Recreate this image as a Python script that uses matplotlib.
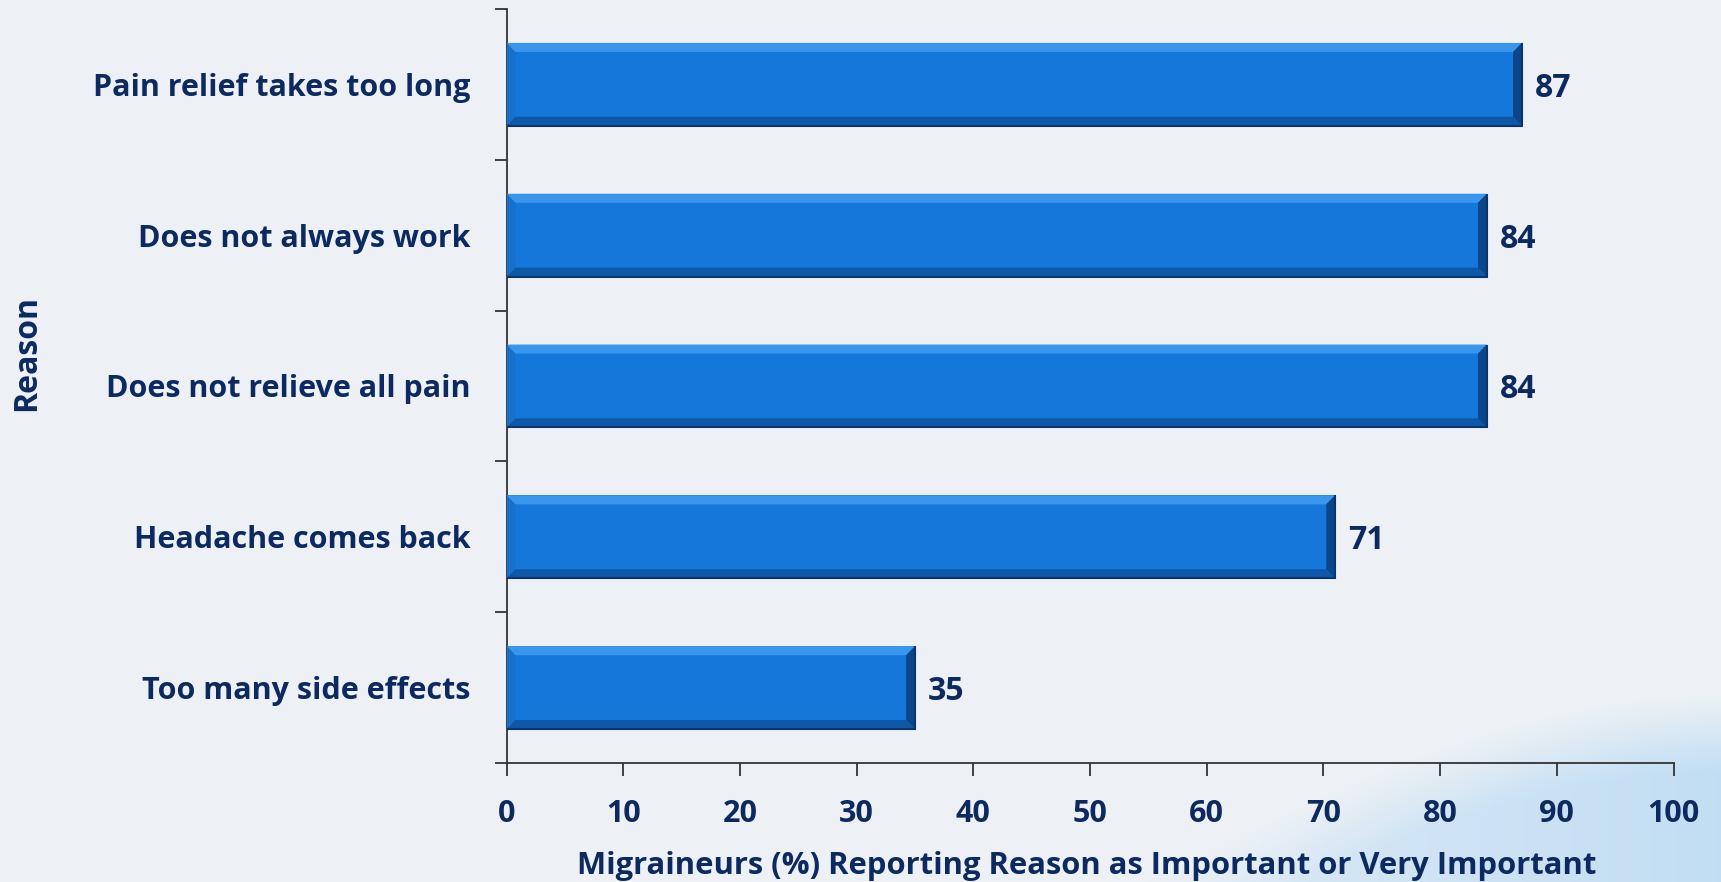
import numpy as np
import matplotlib.pyplot as plt
from matplotlib.patches import Polygon

# Survey data
reasons = [
    "Pain relief takes too long",
    "Does not always work",
    "Does not relieve all pain",
    "Headache comes back",
    "Too many side effects",
]
percent = [87, 84, 84, 71, 35]
x_ticks = list(range(0, 101, 10))

NAVY = "#0c2a60"
FONT = "Open Sans"
W, H, DPI = 1721, 882, 100

fig = plt.figure(figsize=(W / DPI, H / DPI), dpi=DPI)

# Background: pale grey-blue with a soft blue swoosh at the lower right
bg = fig.add_axes([0, 0, 1, 1], zorder=0)
bg.set_axis_off()
yy, xx = np.mgrid[0:H, 0:W].astype(float)
base = np.array([0.933, 0.948, 0.963])
blue = np.array([0.76, 0.87, 0.955])
t = np.clip((xx - 1100) / (W - 1100), 0, 1)
boundary = H + 10 - 200 * np.sin(t * np.pi / 2) ** 1.1
d = yy - boundary
mask = np.clip(d / 80.0, 0, 1) * (xx > 1100)
strength = mask * np.clip(0.35 + 0.65 * t, 0, 1)
img = base[None, None, :] * (1 - strength[..., None]) + blue[None, None, :] * strength[..., None]
bg.imshow(img, extent=[0, 1, 0, 1], aspect="auto", origin="upper")
bg.set_xlim(0, 1)
bg.set_ylim(0, 1)

ax = fig.add_axes([506.5 / W, 119 / H, 1167 / W, 754 / H], zorder=1)
ax.patch.set_alpha(0)

n = len(reasons)
ypos = np.arange(n)[::-1]
bar_h = 0.55

main = "#1477d9"
ax.barh(ypos, percent, height=bar_h, color=main, edgecolor="none", zorder=2)

# Bevel shading on each bar
bx = 0.75   # horizontal bevel depth (data units)
by = 0.06   # vertical bevel depth (category units)
for y, v in zip(ypos, percent):
    top, bot = y + bar_h / 2, y - bar_h / 2
    faces = [
        ([(0, top), (v, top), (v - bx, top - by), (bx, top - by)], "#3a96ec"),
        ([(0, bot), (v, bot), (v - bx, bot + by), (bx, bot + by)], "#0d58a8"),
        ([(v, top), (v, bot), (v - bx, bot + by), (v - bx, top - by)], "#0a4689"),
        ([(0, top), (0, bot), (bx, bot + by), (bx, top - by)], "#1670cc"),
    ]
    for pts, c in faces:
        ax.add_patch(Polygon(pts, closed=True, facecolor=c, edgecolor="none", zorder=3))
    ax.add_patch(Polygon([(0, bot), (v, bot), (v, top)], closed=False, fill=False,
                         edgecolor="#09356a", linewidth=1.5, zorder=4))
    ax.text(v + 1.1, y, f"{v}", va="center_baseline", ha="left", color=NAVY,
            fontsize=23, fontweight="bold", family=FONT, zorder=5)

ax.set_xlim(0, 100)
ax.set_ylim(-0.5, n - 0.5)
ax.set_xticks(x_ticks)
ax.set_xticklabels([str(v) for v in x_ticks])
ax.set_yticks(ypos)
ax.set_yticklabels(reasons)
ax.set_yticks(np.arange(-0.5, n, 1.0), minor=True)

for s in ["top", "right"]:
    ax.spines[s].set_visible(False)
for s in ["left", "bottom"]:
    ax.spines[s].set_color("#333333")
    ax.spines[s].set_linewidth(1.3)

ax.tick_params(axis="x", direction="out", length=9, width=1.3, color="#333333",
               pad=17, labelsize=22, labelcolor=NAVY)
ax.tick_params(axis="y", which="major", length=0, pad=26, labelsize=22, labelcolor=NAVY)
ax.tick_params(axis="y", which="minor", direction="out", length=9, width=1.3, color="#333333")
for lab in ax.get_xticklabels() + ax.get_yticklabels():
    lab.set_fontweight("bold")
    lab.set_family(FONT)

fig.text(1087 / W, 8 / H, "Migraineurs (%) Reporting Reason as Important or Very Important",
         ha="center", va="baseline", color=NAVY, fontsize=22.3, fontweight="bold", family=FONT)
fig.text(27 / W, (H - 353) / H, "Reason", rotation=90, ha="center", va="center",
         color=NAVY, fontsize=23, fontweight="bold", family=FONT)

fig.savefig("out.png", dpi=DPI)
